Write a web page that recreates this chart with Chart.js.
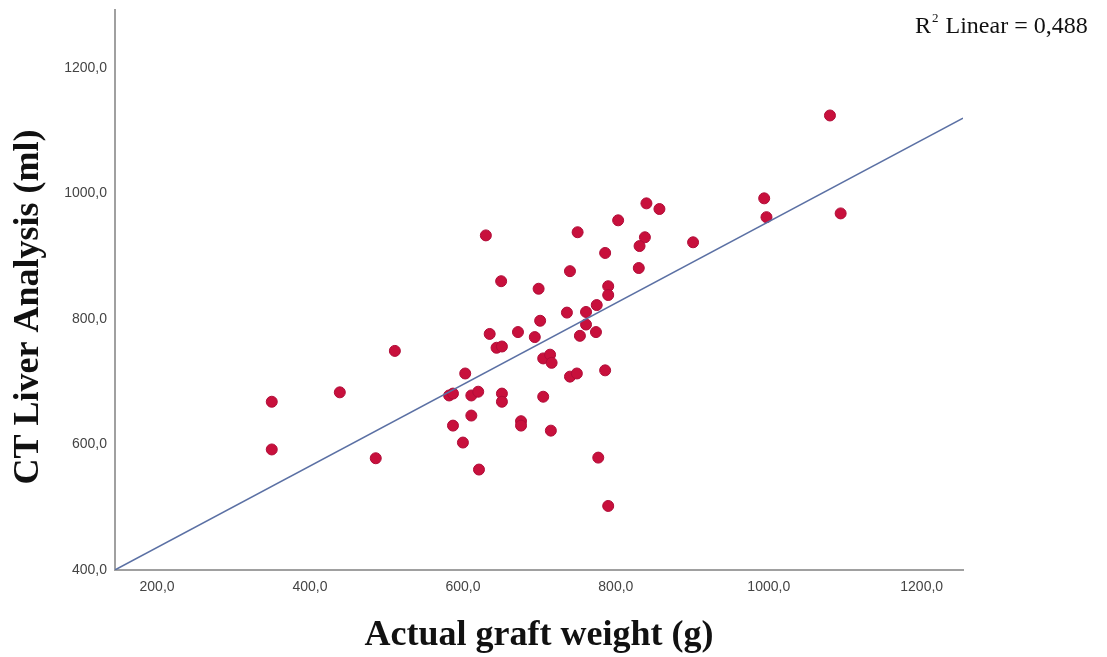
<!DOCTYPE html>
<html>
<head>
<meta charset="utf-8">
<style>
  html, body { margin: 0; padding: 0; background: #fff; }
  #wrap { position: relative; width: 1107px; height: 657px; }
</style>
<script src="https://cdn.jsdelivr.net/npm/chart.js@4.4.1/dist/chart.umd.min.js"></script>
</head>
<body>
<div id="wrap"><canvas id="chart"></canvas></div>
<script>
// Graft weight (g) vs CT volume (ml)
const graftWeight = [350, 350, 439, 486, 511, 630, 840, 857, 803, 750,
                     838, 831, 901, 786, 740, 830, 650, 699, 790, 790,
                     775, 736, 761, 701, 761, 635, 672, 694, 753, 774,
                     644, 651, 705, 714, 716, 740, 749, 786, 603, 582,
                     587, 611, 620, 651, 651, 705, 587, 611, 676, 676,
                     715, 600, 621, 777, 790, 1080, 994, 997, 1094];
const ctVolume = [668, 592, 683, 578, 749, 933, 984, 975, 957, 938,
                  930, 916, 922, 905, 876, 881, 860, 848, 852, 838,
                  822, 810, 811, 797, 791, 776, 779, 771, 773, 779,
                  754, 756, 737, 743, 730, 708, 713, 718, 713, 678,
                  681, 678, 684, 681, 668, 676, 630, 646, 637, 630,
                  622, 603, 560, 579, 502, 1124, 992, 962, 968];

const xTickValues = [200, 400, 600, 800, 1000, 1200];
const yTickValues = [400, 600, 800, 1000, 1200];
const xRange = [145, 1254];
const yRange = [400, 1292];

// fit line as drawn on the plot
const fitIntercept = 306;
const fitSlope = 0.649;
const rSquared = '0,488';

const fmt = v => v.toFixed(1).replace('.', ',');
const serif = '"Liberation Serif", "Times New Roman", serif';

// axis titles + R² label, placed like the original
const labelsPlugin = {
    id: 'labelsPlugin',
    afterDraw(chart) {
        const ctx = chart.ctx;
        const area = chart.chartArea;
        ctx.save();
        ctx.fillStyle = '#111';
        ctx.font = 'bold 36px ' + serif;
        ctx.textAlign = 'center';
        ctx.textBaseline = 'alphabetic';
        ctx.fillText('Actual graft weight (g)', (area.left + area.right) / 2, 645);

        ctx.save();
        ctx.translate(38, 307);
        ctx.rotate(-Math.PI / 2);
        ctx.fillText('CT Liver Analysis (ml)', 0, 0);
        ctx.restore();

        // R² Linear = ...
        ctx.textAlign = 'left';
        ctx.font = '24px ' + serif;
        let x = 915;
        ctx.fillText('R', x, 33);
        x += ctx.measureText('R').width + 1;
        ctx.font = '13px ' + serif;
        ctx.fillText('2', x, 22);
        x += ctx.measureText('2').width + 1;
        ctx.font = '24px ' + serif;
        ctx.fillText(' Linear = ' + rSquared, x, 33);
        ctx.restore();
    }
};

const scatterPoints = graftWeight.map((w, i) => ({ x: w, y: ctVolume[i] }));
const fitPoints = xRange.map(x => ({ x, y: fitIntercept + fitSlope * x }));

new Chart(document.getElementById('chart'), {
    type: 'scatter',
    data: {
        datasets: [{
            type: 'line',
            data: fitPoints,
            borderColor: '#5b70a4',
            borderWidth: 1.5,
            pointRadius: 0,
            fill: false,
            order: 0
        }, {
            data: scatterPoints,
            backgroundColor: '#c8103c',
            borderColor: '#b00c38',
            borderWidth: 1,
            pointRadius: 5.5,
            order: 1
        }]
    },
    options: {
        responsive: true,
        maintainAspectRatio: false,
        animation: false,
        layout: { padding: { left: 0, top: 10, right: 144, bottom: 0 } },
        plugins: {
            legend: { display: false },
            tooltip: { enabled: false }
        },
        scales: {
            x: {
                type: 'linear',
                min: xRange[0],
                max: xRange[1],
                afterFit: s => { s.height = 87; s.paddingLeft = 0; s.paddingRight = 0; },
                afterBuildTicks: s => { s.ticks = xTickValues.map(v => ({ value: v })); },
                grid: { display: false, drawTicks: false },
                border: { display: true, color: '#a0a0a0', width: 2 },
                ticks: {
                    padding: 9,
                    color: '#444',
                    font: { family: '"Liberation Sans", Arial, sans-serif', size: 14 },
                    callback: fmt
                }
            },
            y: {
                type: 'linear',
                min: yRange[0],
                max: yRange[1],
                afterFit: s => { s.width = 115; s.paddingTop = 0; s.paddingBottom = 0; },
                afterBuildTicks: s => { s.ticks = yTickValues.map(v => ({ value: v })); },
                grid: { display: false, drawTicks: false },
                border: { display: true, color: '#a0a0a0', width: 2 },
                ticks: {
                    padding: 8,
                    color: '#444',
                    font: { family: '"Liberation Sans", Arial, sans-serif', size: 14 },
                    callback: fmt
                }
            }
        }
    },
    plugins: [labelsPlugin]
});
</script>
</body>
</html>
